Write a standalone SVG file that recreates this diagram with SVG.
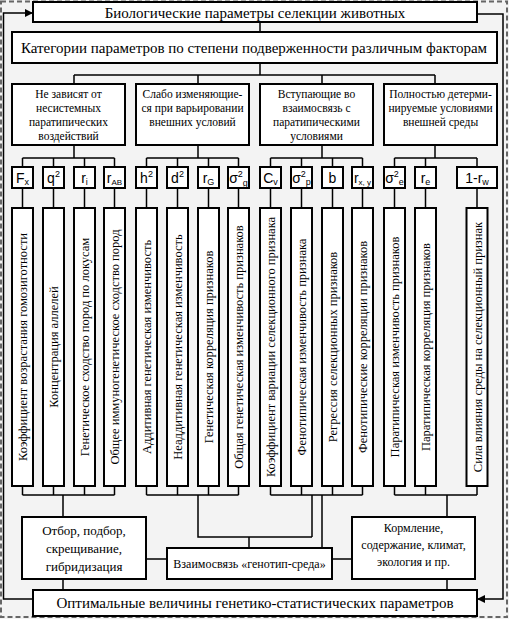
<svg xmlns="http://www.w3.org/2000/svg" width="509" height="619" viewBox="0 0 509 619">
<defs>
<style>
.box{fill:#fff;stroke:#000;stroke-width:2}
.ln{fill:none;stroke:#000;stroke-width:1.5}
.t{font-family:"Liberation Serif","Times New Roman",serif;fill:#000;text-anchor:middle}
.s{font-family:"Liberation Sans",Arial,sans-serif;fill:#000;text-anchor:middle;font-size:14px}
.v{font-family:"Liberation Serif","Times New Roman",serif;fill:#000;text-anchor:middle;font-size:12.5px}
</style>
<marker id="ar" viewBox="0 0 10 10" refX="10" refY="5" markerWidth="8" markerHeight="8" markerUnits="userSpaceOnUse" orient="auto"><path d="M0,0L10,5L0,10z" fill="#000"/></marker>
</defs>
<rect width="509" height="619" fill="#f3f3f3"/>
<rect x="1" y="1.5" width="506" height="615.5" fill="none" stroke="#666" stroke-width="2" stroke-dasharray="5 3"/>

<g id="connectors" class="ln">
<path d="M260 22V32M260 63V75M74 75H435M74 75V84M198 75V84M322 75V84M435 75V84"/>
<path d="M74 145V158M22.5 158H114.5M22.5 158V167M53.5 158V167M84.5 158V167M114.5 158V167"/>
<path d="M198 145V158M146.5 158H238.5M146.5 158V167M177.5 158V167M208.5 158V167M238.5 158V167"/>
<path d="M322 145V158M270.5 158H362.5M270.5 158V167M301.5 158V167M332.5 158V167M362.5 158V167"/>
<path d="M435 145V158M394.5 158H477M394.5 158V167M425.5 158V167M477 158V167"/>
<path d="M22.5 188V208M53.5 188V208M84.5 188V208M114.5 188V208M146.5 188V208M177.5 188V208M208.5 188V208M238.5 188V208M270.5 188V208M301.5 188V208M332.5 188V208M362.5 188V208M394.5 188V208M425.5 188V208M477 188V208"/>
<path d="M22.5 486V495M53.5 486V495M84.5 486V495M114.5 486V495M146.5 486V495M177.5 486V495M208.5 486V495M238.5 486V495M270.5 486V495M301.5 486V495M332.5 486V495M362.5 486V495M394.5 486V495M425.5 486V495M477 486V495"/>
<path d="M22.5 495H114.5M146.5 495H238.5M270.5 495H362.5M394.5 495H477"/>
<path d="M63 495V517M198 495V537H312M312 495V537M249 537V548M322 495V548M447 495V517"/>
<path d="M146 559H167M332 559H352M63 579V590M447 579V590"/>
<path d="M33 599H3.5V13H33" marker-end="url(#ar)"/>
<path d="M477 14H503V599H477" marker-end="url(#ar)"/>
</g>

<g id="top"><rect class="box" x="33" y="2" width="444" height="20"/><text class="t" x="255" y="17.5" font-size="15">Биологические параметры селекции животных</text></g>
<g id="categories"><rect class="box" x="12" y="32" width="485" height="31"/><text class="t" x="254" y="53" font-size="15">Категории параметров по степени подверженности различным факторам</text></g>

<g id="cat1"><rect class="box" x="12" y="84" width="113" height="61"/><text class="t" font-size="11.5"><tspan x="68.5" y="98">Не зависят  от</tspan><tspan x="68.5" y="112">несистемных</tspan><tspan x="68.5" y="126">паратипических</tspan><tspan x="68.5" y="140">воздействий</tspan></text></g>
<g id="cat2"><rect class="box" x="136" y="84" width="113" height="61"/><text class="t" font-size="11.5"><tspan x="192.5" y="98">Слабо изменяющие-</tspan><tspan x="192.5" y="112">ся при варьировании</tspan><tspan x="192.5" y="126">внешних условий</tspan></text></g>
<g id="cat3"><rect class="box" x="260" y="84" width="113" height="61"/><text class="t" font-size="11.5"><tspan x="316.5" y="98">Вступающие во</tspan><tspan x="316.5" y="112">взаимосвязь с</tspan><tspan x="316.5" y="126">паратипическими</tspan><tspan x="316.5" y="140">условиями</tspan></text></g>
<g id="cat4"><rect class="box" x="384" y="84" width="113" height="61"/><text class="t" font-size="11.5"><tspan x="440.5" y="98">Полностью детерми-</tspan><tspan x="440.5" y="112">нируемые условиями</tspan><tspan x="440.5" y="126">внешней среды</tspan></text></g>

<g id="sym1"><rect class="box" x="12" y="167" width="21" height="21"/><text class="s" x="22.5" y="183">F<tspan font-size="9" dy="2">x</tspan></text></g>
<g id="sym2"><rect class="box" x="43" y="167" width="21" height="21"/><text class="s" x="53.5" y="183">q<tspan font-size="9" dy="-6">2</tspan></text></g>
<g id="sym3"><rect class="box" x="74" y="167" width="21" height="21"/><text class="s" x="84.5" y="183">r<tspan font-size="9" dy="2">i</tspan></text></g>
<g id="sym4"><rect class="box" x="104" y="167" width="21" height="21"/><text class="s" x="114.5" y="183">r<tspan font-size="8" dy="2">AB</tspan></text></g>
<g id="sym5"><rect class="box" x="136" y="167" width="21" height="21"/><text class="s" x="146.5" y="183">h<tspan font-size="9" dy="-6">2</tspan></text></g>
<g id="sym6"><rect class="box" x="167" y="167" width="21" height="21"/><text class="s" x="177.5" y="183">d<tspan font-size="9" dy="-6">2</tspan></text></g>
<g id="sym7"><rect class="box" x="198" y="167" width="21" height="21"/><text class="s" x="208.5" y="183">r<tspan font-size="9" dy="2">G</tspan></text></g>
<g id="sym8"><rect class="box" x="228" y="167" width="21" height="21"/><text class="s" x="238.5" y="183">σ<tspan font-size="9" dy="-6">2</tspan><tspan font-size="9" dy="9">g</tspan></text></g>
<g id="sym9"><rect class="box" x="260" y="167" width="21" height="21"/><text class="s" x="270.5" y="183">C<tspan font-size="9" dy="2">v</tspan></text></g>
<g id="sym10"><rect class="box" x="291" y="167" width="21" height="21"/><text class="s" x="301.5" y="183">σ<tspan font-size="9" dy="-6">2</tspan><tspan font-size="9" dy="8">p</tspan></text></g>
<g id="sym11"><rect class="box" x="322" y="167" width="21" height="21"/><text class="s" x="332.5" y="183">b</text></g>
<g id="sym12"><rect class="box" x="352" y="167" width="21" height="21"/><text class="s" x="362.5" y="183">r<tspan font-size="8" dy="2">x, y</tspan></text></g>
<g id="sym13"><rect class="box" x="384" y="167" width="21" height="21"/><text class="s" x="394.5" y="183">σ<tspan font-size="9" dy="-6">2</tspan><tspan font-size="9" dy="8">e</tspan></text></g>
<g id="sym14"><rect class="box" x="415" y="167" width="21" height="21"/><text class="s" x="425.5" y="183">r<tspan font-size="9" dy="2">e</tspan></text></g>
<g id="sym15"><rect class="box" x="457" y="167" width="40" height="21"/><text class="s" x="477" y="183" font-size="12">1-r<tspan font-size="9" dy="2">w</tspan></text></g>

<g id="col1"><rect class="box" x="12" y="208" width="21" height="278"/><text class="v" transform="translate(27,347) rotate(-90)">Коэффициент возрастания гомозиготности</text></g>
<g id="col2"><rect class="box" x="43" y="208" width="21" height="278"/><text class="v" transform="translate(58,347) rotate(-90)">Концентрация аллелей</text></g>
<g id="col3"><rect class="box" x="74" y="208" width="21" height="278"/><text class="v" transform="translate(89,347) rotate(-90)">Генетическое сходство пород по локусам</text></g>
<g id="col4"><rect class="box" x="104" y="208" width="21" height="278"/><text class="v" transform="translate(119,347) rotate(-90)">Общее иммуногенетическое сходство пород</text></g>
<g id="col5"><rect class="box" x="136" y="208" width="21" height="278"/><text class="v" transform="translate(151,347) rotate(-90)">Аддитивная генетическая изменчивость</text></g>
<g id="col6"><rect class="box" x="167" y="208" width="21" height="278"/><text class="v" transform="translate(182,347) rotate(-90)">Неаддитивная генетическая изменчивость</text></g>
<g id="col7"><rect class="box" x="198" y="208" width="21" height="278"/><text class="v" transform="translate(213,347) rotate(-90)">Генетическая корреляция признаков</text></g>
<g id="col8"><rect class="box" x="228" y="208" width="21" height="278"/><text class="v" transform="translate(243,347) rotate(-90)">Общая генетическая изменчивость признаков</text></g>
<g id="col9"><rect class="box" x="260" y="208" width="21" height="278"/><text class="v" transform="translate(275,347) rotate(-90)">Коэффициент вариации  селекционного признака</text></g>
<g id="col10"><rect class="box" x="291" y="208" width="21" height="278"/><text class="v" transform="translate(306,347) rotate(-90)">Фенотипическая изменчивость признака</text></g>
<g id="col11"><rect class="box" x="322" y="208" width="21" height="278"/><text class="v" transform="translate(337,347) rotate(-90)">Регрессия селекционных признаков</text></g>
<g id="col12"><rect class="box" x="352" y="208" width="21" height="278"/><text class="v" transform="translate(367,347) rotate(-90)">Фенотипические корреляции  признаков</text></g>
<g id="col13"><rect class="box" x="384" y="208" width="21" height="278"/><text class="v" transform="translate(399,347) rotate(-90)">Паратипическая изменчивость признаков</text></g>
<g id="col14"><rect class="box" x="415" y="208" width="21" height="278"/><text class="v" transform="translate(430,347) rotate(-90)">Паратипическая корреляция признаков</text></g>
<g id="col15"><rect class="box" x="466.5" y="208" width="21" height="278"/><text class="v" transform="translate(481.5,347) rotate(-90)">Сила влияния среды на селекционный признак</text></g>

<g id="selection"><rect class="box" x="22" y="517" width="124" height="62"/><text class="t" font-size="13"><tspan x="84" y="535">Отбор, подбор,</tspan><tspan x="84" y="553">скрещивание,</tspan><tspan x="84" y="571">гибридизация</tspan></text></g>
<g id="interaction"><rect class="box" x="167" y="548" width="165" height="31"/><text class="t" x="249.5" y="568" font-size="12">Взаимосвязь «генотип-среда»</text></g>
<g id="environment"><rect class="box" x="352" y="517" width="123" height="62"/><text class="t" font-size="12"><tspan x="413.5" y="532">Кормление,</tspan><tspan x="413.5" y="549">содержание, климат,</tspan><tspan x="413.5" y="566">экология и пр.</tspan></text></g>
<g id="optimal"><rect class="box" x="33" y="590" width="444" height="26"/><text class="t" x="255" y="608" font-size="15">Оптимальные величины генетико-статистических параметров</text></g>
</svg>
